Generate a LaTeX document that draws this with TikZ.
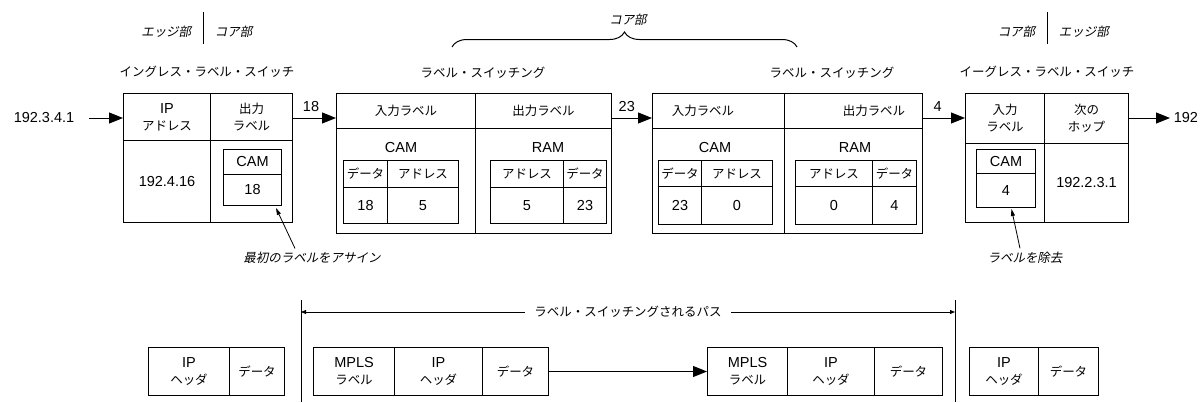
\documentclass[tikz,border=0pt]{standalone}
\usepackage{fontspec}
\setmainfont{Liberation Sans}
\newfontfamily\jpfont{Noto Sans CJK JP}[Scale=0.86]
\newfontfamily\jpslant{Noto Sans CJK JP}[Scale=0.86,FakeSlant=0.2]
\usetikzlibrary{arrows.meta,decorations.pathreplacing}
\newcommand\J[1]{{\jpfont #1}}
\newcommand\figfont{\fontsize{14.5}{17}\selectfont}
\tikzset{
	cell/.style={draw, inner sep=0pt, align=center, anchor=north west},
	note/.style={font=\figfont\jpslant},
	bigarrow/.style={-{Triangle[length=14pt,width=11pt]}},
	thinarrow/.style={line width=0.8pt, -{Triangle[length=7pt,width=4pt]}},
	patharrow/.style={line width=0.8pt, -{Triangle[length=5pt,width=4pt]}},
}

\begin{document}
\begin{tikzpicture}[x=1pt, y=-1pt, line width=1pt, every node/.style={font=\figfont}]
			%%%%% START %%%%%
			\useasboundingbox (0,0) rectangle (1200,402);
			
			% edge / core markers
			\node[note, anchor=east] (edgeL) at (195,32) {エッジ部};
			\node[note, anchor=west] (coreL) at (211,32) {コア部};
			\draw (203,12) -- (203,44);
			\node[note, anchor=east] (coreR) at (1039,32) {コア部};
			\node[note, anchor=west] (edgeR) at (1055,32) {エッジ部};
			\draw (1047,12) -- (1047,44);
			\draw[decorate, decoration={brace, amplitude=15pt}] (452,47) -- (797,47);
			\node[note] (core) at (628,20) {コア部};
			
			\node (ingtitle) at (207,72) {\J{イングレス・ラベル・スイッチ}};
			\node (sw1title) at (483,73) {\J{ラベル・スイッチング}};
			\node (sw2title) at (832,73) {\J{ラベル・スイッチング}};
			\node (egtitle) at (1047,72) {\J{イーグレス・ラベル・スイッチ}};
			
			% ingress switch
			\node[cell, minimum width=87, minimum height=47] (ingip) at (123,93) {IP\\\J{アドレス}};
			\node[cell, minimum width=82, minimum height=47] (ingout) at (210,93) {\J{出力}\\\J{ラベル}};
			\node[cell, minimum width=87, minimum height=82] (ingaddr) at (123,140) {192.4.16};
			\node[cell, minimum width=82, minimum height=82] (ingcam) at (210,140) {};
			\node[cell, minimum width=58, minimum height=25] (ingcamh) at (223,149) {CAM};
			\node[cell, minimum width=58, minimum height=31] (ingcamv) at (223,174) {18};
			
			% first label switch
			\node[cell, minimum width=139, minimum height=35] (sw1in) at (336,93) {\J{入力ラベル}};
			\node[cell, minimum width=136, minimum height=35] (sw1out) at (475,93) {\J{出力ラベル}};
			\node[cell, minimum width=139, minimum height=105] (sw1cam) at (336,128) {};
			\node[cell, minimum width=136, minimum height=105] (sw1ram) at (475,128) {};
			\node (sw1camtxt) at (401,148) {CAM};
			\node (sw1ramtxt) at (548,148) {RAM};
			\node[cell, minimum width=44, minimum height=27] (sw1cd) at (343,160) {\J{データ}};
			\node[cell, minimum width=71, minimum height=27] (sw1ca) at (387,160) {\J{アドレス}};
			\node[cell, minimum width=44, minimum height=36] (sw1c18) at (343,187) {18};
			\node[cell, minimum width=71, minimum height=36] (sw1c5) at (387,187) {5};
			\node[cell, minimum width=73, minimum height=27] (sw1ra) at (490,160) {\J{アドレス}};
			\node[cell, minimum width=43, minimum height=27] (sw1rd) at (563,160) {\J{データ}};
			\node[cell, minimum width=73, minimum height=36] (sw1r5) at (490,187) {5};
			\node[cell, minimum width=43, minimum height=36] (sw1r23) at (563,187) {23};
			
			% second label switch
			\node[cell, minimum width=132, minimum height=35] (sw2in) at (652,93) {};
			\node[cell, minimum width=138, minimum height=35] (sw2out) at (784,93) {};
			\node (sw2intxt) at (703,111) {\J{入力ラベル}};
			\node (sw2outtxt) at (874,111) {\J{出力ラベル}};
			\node[cell, minimum width=132, minimum height=105] (sw2cam) at (652,128) {};
			\node[cell, minimum width=138, minimum height=105] (sw2ram) at (784,128) {};
			\node (sw2camtxt) at (715,148) {CAM};
			\node (sw2ramtxt) at (855,148) {RAM};
			\node[cell, minimum width=43, minimum height=26] (sw2cd) at (658,160) {\J{データ}};
			\node[cell, minimum width=71, minimum height=26] (sw2ca) at (701,160) {\J{アドレス}};
			\node[cell, minimum width=43, minimum height=38] (sw2c23) at (658,186) {23};
			\node[cell, minimum width=71, minimum height=38] (sw2c0) at (701,186) {0};
			\node[cell, minimum width=77, minimum height=26] (sw2ra) at (795,160) {\J{アドレス}};
			\node[cell, minimum width=44, minimum height=26] (sw2rd) at (872,160) {\J{データ}};
			\node[cell, minimum width=77, minimum height=38] (sw2r0) at (795,186) {0};
			\node[cell, minimum width=44, minimum height=38] (sw2r4) at (872,186) {4};
			
			% egress switch
			\node[cell, minimum width=79, minimum height=50] (egin) at (965,93) {\J{入力}\\\J{ラベル}};
			\node[cell, minimum width=84, minimum height=50] (eghop) at (1044,93) {\J{次の}\\\J{ホップ}};
			\node[cell, minimum width=79, minimum height=79] (egcam) at (965,143) {};
			\node[cell, minimum width=84, minimum height=79] (egaddr) at (1044,143) {192.2.3.1};
			\node[cell, minimum width=59, minimum height=24] (egcamh) at (976,149) {CAM};
			\node[cell, minimum width=59, minimum height=34] (egcamv) at (976,173) {4};
			
			% packet flow between the switches
			\node (src) at (44,118) {192.3.4.1};
			\draw[bigarrow] ([xshift=11pt]src.east) -- (src -| ingip.west);
			\draw[bigarrow] (ingout.east |- src) -- (src -| sw1in.west) node[pos=0.42, above=3pt] (l18) {18};
			\draw[bigarrow] (sw1out.east |- src) -- (src -| sw2in.west) node[pos=0.37, above=3pt] (l23) {23};
			\draw[bigarrow] (sw2out.east |- src) -- (src -| egin.west) node[pos=0.35, above=3pt] (l4) {4};
			\node[anchor=west] (dst) at (1170,118) {192};
			\draw[bigarrow] (eghop.east |- dst) -- (dst.west);
			
			\node[note] (assign) at (312,258) {最初のラベルをアサイン};
			\draw[thinarrow] ([xshift=-17pt]assign.north) -- ([xshift=-6pt,yshift=-2pt]ingcamv.south east);
			\node[note] (remove) at (1025,258) {ラベルを除去};
			\draw[thinarrow] ([xshift=-5pt]remove.north) -- ([xshift=5.5pt,yshift=-1pt]egcamv.south);
			
			% label switched path
			\coordinate (lspL) at (301,300);
			\coordinate (lspR) at (955,300);
			\draw (lspL) -- (301,402);
			\draw (lspR) -- (955,402);
			\node[inner sep=9pt] (lsp) at (628,312) {\J{ラベル・スイッチングされるパス}};
			\draw[patharrow] (lsp.west) -- (lsp.west -| lspL);
			\draw[patharrow] (lsp.east) -- (lsp.east -| lspR);
			
			% packets
			\node[cell, minimum width=81, minimum height=48] (pk0h) at (148,347) {IP\\\J{ヘッダ}};
			\node[cell, minimum width=55, minimum height=48] (pk0d) at (229,347) {\J{データ}};
			
			\node[cell, minimum width=81, minimum height=48] (pk1m) at (313,347) {MPLS\\\J{ラベル}};
			\node[cell, minimum width=88, minimum height=48] (pk1h) at (394,347) {IP\\\J{ヘッダ}};
			\node[cell, minimum width=66, minimum height=48] (pk1d) at (482,347) {\J{データ}};
			
			\node[cell, minimum width=80, minimum height=48] (pk2m) at (707,347) {MPLS\\\J{ラベル}};
			\node[cell, minimum width=87, minimum height=48] (pk2h) at (787,347) {IP\\\J{ヘッダ}};
			\node[cell, minimum width=68, minimum height=48] (pk2d) at (874,347) {\J{データ}};
			\draw[bigarrow] (pk1d) -- (pk2m);
			
			\node[cell, minimum width=69, minimum height=48] (pk3h) at (969,347) {IP\\\J{ヘッダ}};
			\node[cell, minimum width=60, minimum height=48] (pk3d) at (1038,347) {\J{データ}};
			
			%%%%% END %%%%%
\end{tikzpicture}
\end{document}
